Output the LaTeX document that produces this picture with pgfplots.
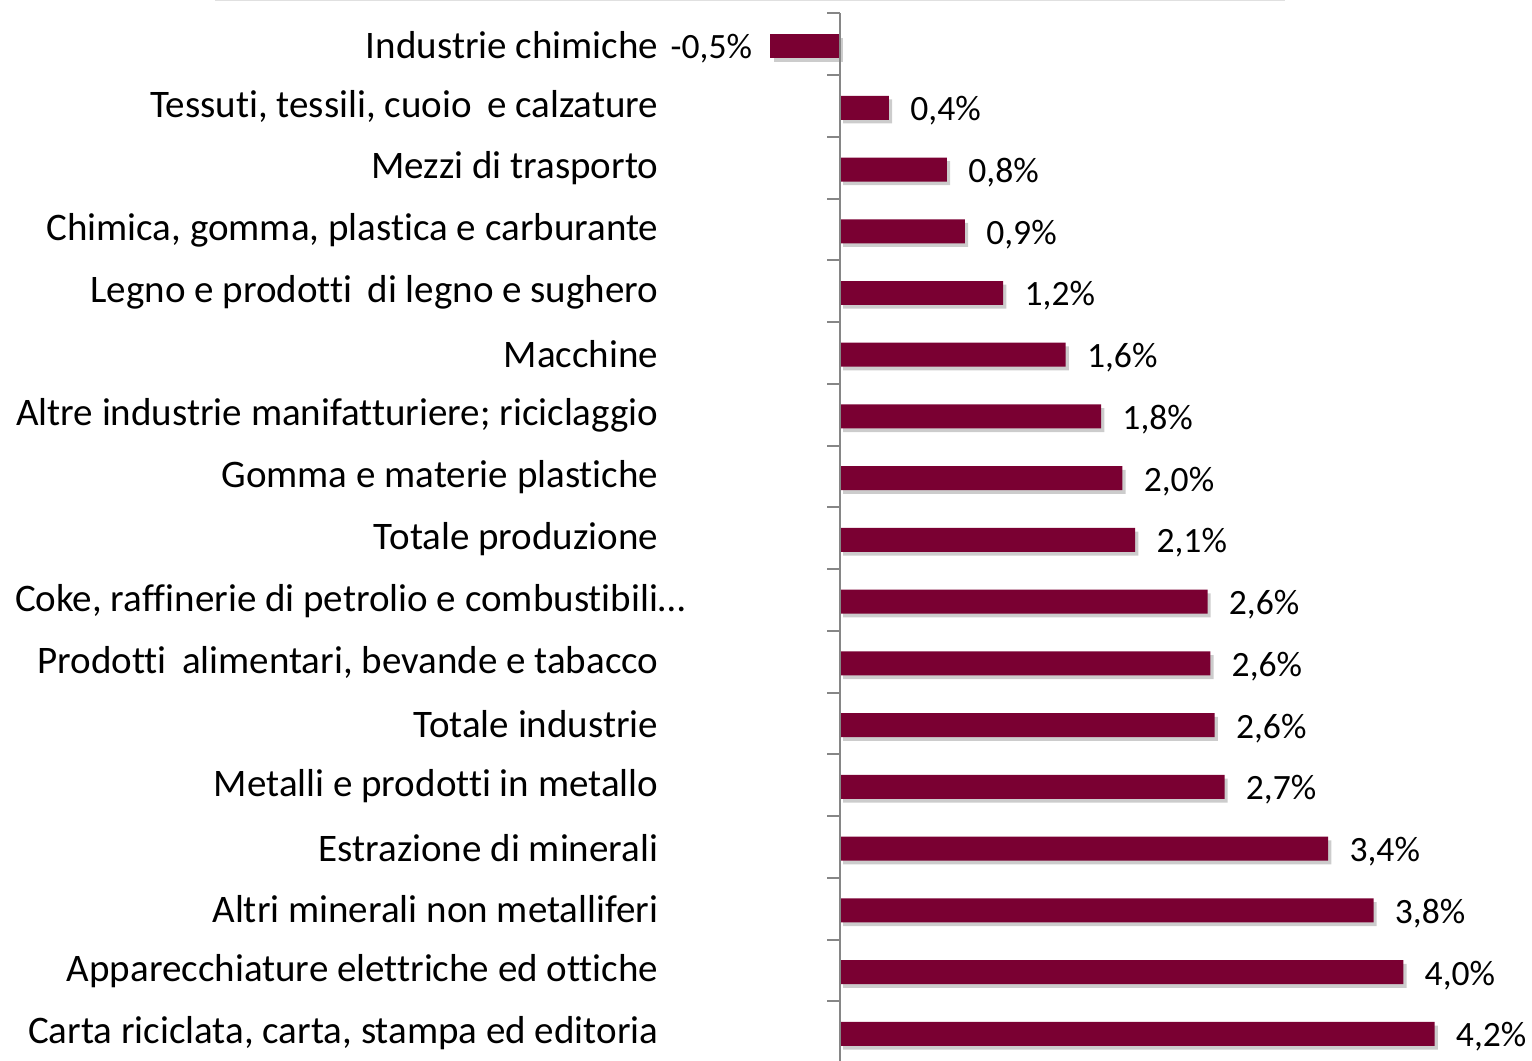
\documentclass[border=0pt]{standalone}
\usepackage{pgfplots}
\pgfplotsset{compat=1.18}
\usepackage{fontspec}
\setmainfont{Carlito}[Ligatures={NoCommon}]
\definecolor{barred}{RGB}{122,0,50}
\definecolor{axgray}{RGB}{134,134,134}
\newcommand{\lbl}{\fontsize{19.5}{23}\selectfont}
\newcommand{\vlbl}{\fontsize{17.8}{21}\selectfont}
\begin{document}
\begin{tikzpicture}
\begin{axis}[
  x=70.95pt, y=30.875pt, y dir=reverse,
  xmin=-1.2, xmax=4.8, ymin=-0.5, ymax=16.5,
  clip=false,
  axis line style={draw=none},
  xtick=\empty,
  ytick={0,...,16},
  ytick pos=left,
  major tick length=0pt,
  yticklabels={
    {Industrie chimiche},
    {Tessuti, tessili, cuoio\, e calzature},
    {Mezzi di trasporto},
    {Chimica, gomma, plastica e carburante},
    {Legno e prodotti\, di legno e sughero},
    {Macchine},
    {Altre industrie manifatturiere; riciclaggio},
    {Gomma e materie plastiche},
    {Totale produzione},
    {Coke, raffinerie di petrolio e combustibili\rlap{…}},
    {Prodotti\, alimentari, bevande e tabacco},
    {Totale industrie},
    {Metalli e prodotti in metallo\hspace{0.3em}},
    {Estrazione di minerali},
    {Altri minerali non metalliferi},
    {Apparecchiature elettriche ed ottiche},
    {Carta riciclata, carta, stampa ed editoria}},
  yticklabel style={font=\lbl, anchor=east, inner sep=0pt, xshift=-5.5pt, yshift=0.5pt},
]
% negative bar
\addplot[xbar, bar width=12pt, bar shift=0pt, fill=barred, draw=none,
  preaction={fill=black, opacity=0.2, transform canvas={xshift=1.6pt, yshift=-1.8pt}},
  point meta=explicit symbolic,
  nodes near coords,
  nodes near coords style={font=\vlbl, anchor=east, inner sep=0pt, xshift=-9pt, yshift=-1.5pt, text=black, opacity=1}]
  coordinates {(-0.49,0) [-0,5\%]};
% positive bars
\addplot[xbar, bar width=12pt, bar shift=0pt, fill=barred, draw=none,
  preaction={fill=black, opacity=0.2, transform canvas={xshift=1.6pt, yshift=-1.8pt}},
  point meta=explicit symbolic,
  nodes near coords,
  nodes near coords style={font=\vlbl, anchor=west, inner sep=0pt, xshift=10.5pt, yshift=-1.5pt, text=black, opacity=1}]
  coordinates {
    (0.345,1) [0,4\%]
    (0.754,2) [0,8\%]
    (0.88,3) [0,9\%]
    (1.15,4) [1,2\%]
    (1.59,5) [1,6\%]
    (1.84,6) [1,8\%]
    (1.99,7) [2,0\%]
    (2.08,8) [2,1\%]
    (2.59,9) [2,6\%]
    (2.61,10) [2,6\%]
    (2.64,11) [2,6\%]
    (2.71,12) [2,7\%]
    (3.44,13) [3,4\%]
    (3.76,14) [3,8\%]
    (3.97,15) [4,0\%]
    (4.19,16) [4,2\%]
  };
% vertical axis line at zero with boundary ticks
\draw[axgray, line width=1pt] (axis cs:0,-0.53) -- (axis cs:0,16.6);
\pgfplotsinvokeforeach{-0.53,0.47,1.47,2.47,3.47,4.47,5.47,6.47,7.47,8.47,9.47,10.47,11.47,12.47,13.47,14.47,15.47}{
  \draw[axgray, line width=1pt] (axis cs:0,#1) -- ++(-6.5pt,0pt);
}
% faint top border
\draw[black!12, line width=0.6pt] (axis cs:-4.405,-0.737) -- (axis cs:3.136,-0.737);
\coordinate (bbSW) at (axis cs:-5.9197,16.437);
\coordinate (bbNE) at (axis cs:4.8767,-0.745);
\end{axis}
\pgfresetboundingbox
\useasboundingbox (bbSW) rectangle (bbNE);
\end{tikzpicture}
\end{document}
